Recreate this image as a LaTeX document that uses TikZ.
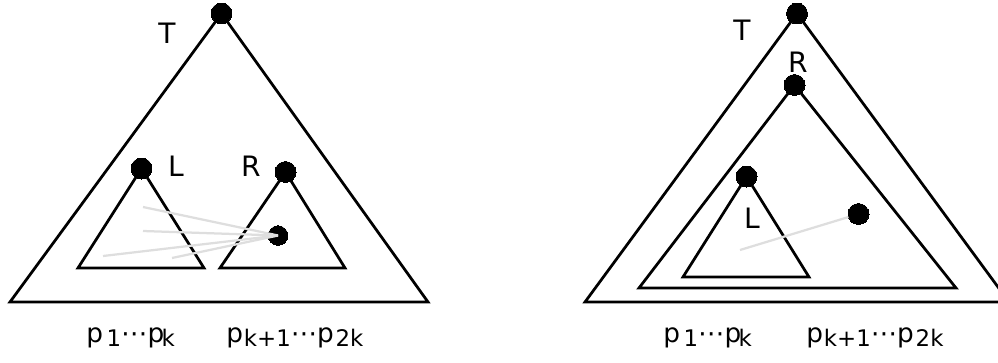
\documentclass[tikz,border=0pt]{standalone}
\usepackage{fontspec}
\setmainfont{DejaVu Sans}
\newcommand{\sbs}[2][2pt]{\kern#1\raisebox{-0.3ex}{\fontsize{13}{13}\selectfont #2}}
\begin{document}
\begin{tikzpicture}[x=0.02cm, y=-0.02cm, line width=0.055cm, dot/.style={draw, circle, fill=black, minimum size=0.42cm, inner sep=0pt, line width=0pt}, lbl/.style={font=\fontsize{16}{18}\selectfont, inner sep=0pt}, seq/.style={font=\fontsize{15}{17}\selectfont, inner sep=0pt, anchor=base west}, trace/.style={draw=black!13, line width=0.045cm}]
\useasboundingbox (0,0) rectangle (998,362);
\clip (0,0) rectangle (998,362);
\coordinate (G1A) at (10,302);
\coordinate (G1B) at (428,302);
\coordinate (G1C) at (78,268);
\coordinate (G1D) at (204,268);
\coordinate (G1E) at (220,268);
\coordinate (G1F) at (345,268);
\coordinate (G2A) at (585,302);
\coordinate (G2B) at (1009,302);
\coordinate (G2C) at (639,288);
\coordinate (G2D) at (956,288);
\coordinate (G2E) at (683,277);
\coordinate (G2F) at (809,277);
\node[dot] (G1T) at (221.5,13.5) {};
\node[dot] (G1L) at (141.5,168.5) {};
\node[dot] (G1R) at (285.5,172) {};
\node[dot, minimum size=0.39cm] (G1P) at (278,235.5) {};
\node[dot] (G2T) at (797,13.5) {};
\node[dot] (G2R) at (794.5,85) {};
\node[dot] (G2L) at (746.5,176.5) {};
\node[dot] (G2P) at (858.5,214) {};
\draw (G1T.center) -- (G1A) -- (G1B) -- cycle;
\draw (G1L.center) -- (G1C) -- (G1D) -- cycle;
\draw (G1R.center) -- (G1E) -- (G1F) -- cycle;
\draw (G2T.center) -- (G2A) -- (G2B) -- cycle;
\draw (G2R.center) -- (G2C) -- (G2D) -- cycle;
\draw (G2L.center) -- (G2E) -- (G2F) -- cycle;
\coordinate (G1S1) at (143,207);
\coordinate (G1S2) at (143,231);
\coordinate (G1S3) at (103,256);
\coordinate (G1S4) at (172,258);
\coordinate (G2S1) at (740,250);
\draw[trace] (G1S1) -- (G1P.center);
\draw[trace] (G1S2) -- (G1P.center);
\draw[trace] (G1S3) -- (G1P.center);
\draw[trace] (G1S4) -- (G1P.center);
\draw[trace] (G2S1) -- (G2P);
\node[lbl] (G1TL) at (167,33) {T};
\node[lbl] (G1LL) at (176,166) {L};
\node[lbl] (G1RL) at (251,166) {R};
\node[lbl] (G2TL) at (742,30) {T};
\node[lbl] (G2RL) at (798,62) {R};
\node[lbl] (G2LL) at (752,218) {L};
\node[seq] (G1PL) at (85,342) {p\sbs{1}⋯p\sbs[-1.5pt]{k}};
\node[seq] (G1PR) at (225,342) {p\sbs[0.5pt]{k+1}⋯p\sbs[1pt]{2k}};
\node[seq] (G2PL) at (662,342) {p\sbs{1}⋯p\sbs[-1.5pt]{k}};
\node[seq] (G2PR) at (805,342) {p\sbs[0.5pt]{k+1}⋯p\sbs[1pt]{2k}};
\end{tikzpicture}
\end{document}
